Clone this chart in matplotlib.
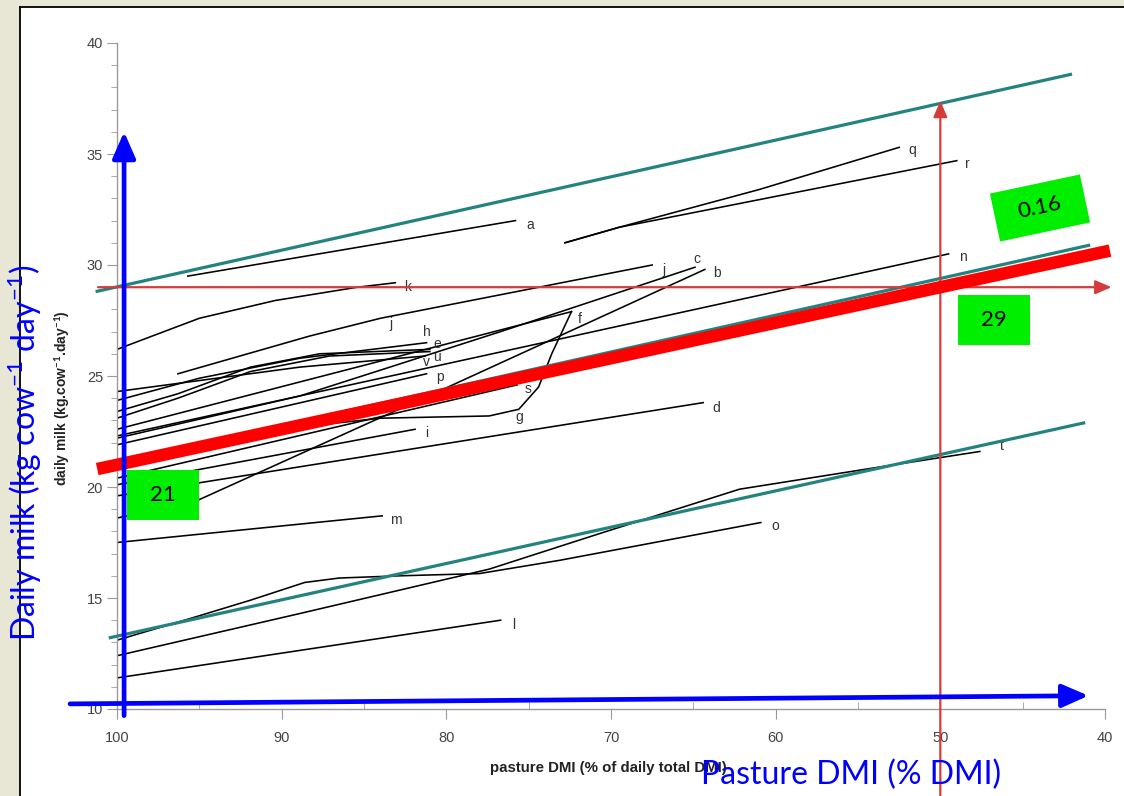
import matplotlib
matplotlib.use('Agg')
import matplotlib.pyplot as plt
import matplotlib.transforms as mtransforms
from matplotlib.patches import Rectangle
from matplotlib.lines import Line2D
from matplotlib.ticker import MultipleLocator

plt.rcParams['mathtext.fontset'] = 'custom'
plt.rcParams['mathtext.rm'] = 'Lato'
plt.rcParams['mathtext.it'] = 'Lato:italic'
plt.rcParams['mathtext.bf'] = 'Lato:bold'

# pasture DMI (% of total DMI) vs daily milk (kg/cow/day), one curve per study
pdmi_a = [95.7, 75.8]
milk_a = [29.5, 32.0]
pdmi_q = [72.8, 69.5, 61.0, 52.5]
milk_q = [31.0, 31.7, 33.4, 35.3]
pdmi_r = [72.8, 69.5, 49.0]
milk_r = [31.0, 31.7, 34.7]
pdmi_k = [100, 95.0, 90.4, 85.4, 83.1]
milk_k = [26.2, 27.6, 28.4, 29.0, 29.2]
pdmi_j = [96.3, 88.3, 84.0, 67.5]
milk_j = [25.1, 26.8, 27.6, 30.0]
pdmi_c = [100, 88.9, 76.7, 64.9]
milk_c = [22.2, 24.1, 27.0, 29.9]
pdmi_b = [100, 95.1, 80.2, 64.3]
milk_b = [18.6, 19.4, 24.4, 29.8]
pdmi_n = [100, 49.5]
milk_n = [22.3, 30.5]
pdmi_f = [100, 72.4]
milk_f = [22.6, 27.9]
pdmi_g = [100, 95.0, 88.9, 84.0, 77.4, 75.6, 74.4, 73.6, 72.4]
milk_g = [20.8, 21.7, 22.7, 23.1, 23.2, 23.5, 24.5, 26.0, 27.9]
pdmi_s = [100, 75.7]
milk_s = [20.4, 24.6]
pdmi_i = [100, 81.9]
milk_i = [20.1, 22.6]
pdmi_d = [100, 64.4]
milk_d = [19.6, 23.8]
pdmi_p = [100, 81.2]
milk_p = [21.9, 25.1]
pdmi_h = [100, 95.0, 88.9, 81.2]
milk_h = [23.9, 24.9, 25.8, 26.5]
pdmi_e = [100, 96.3, 91.9, 87.7, 81.0]
milk_e = [23.4, 24.2, 25.4, 26.0, 26.2]
pdmi_u = [100, 96.3, 91.9, 87.1, 81.0]
milk_u = [23.1, 24.0, 25.2, 25.9, 26.1]
pdmi_v = [100, 88.9, 81.3]
milk_v = [24.3, 25.4, 25.9]
pdmi_m = [100, 83.9]
milk_m = [17.5, 18.7]
pdmi_o = [100, 95.0, 91.9, 88.6, 86.5, 82.8, 78.0, 73.1, 60.9]
milk_o = [13.1, 14.2, 14.9, 15.7, 15.9, 16.0, 16.1, 16.7, 18.4]
pdmi_t = [100, 88.9, 77.4, 70.7, 62.2, 53.7, 47.6]
milk_t = [12.4, 14.3, 16.3, 17.9, 19.9, 20.9, 21.6]
pdmi_l = [100, 76.7]
milk_l = [11.4, 14.0]

studies = ['a', 'q', 'r', 'k', 'j', 'c', 'b', 'n', 'f', 'g', 's', 'i', 'd',
           'p', 'h', 'e', 'u', 'v', 'm', 'o', 't', 'l']

# envelope lines
upper_x = [101.3, 42.0]
upper_y = [28.8, 38.6]
mid_x = [101.0, 40.9]
mid_y = [20.95, 30.9]
lower_x = [100.5, 41.2]
lower_y = [13.2, 22.9]

# overall response: 21 kg at 100 % pasture, +0.16 kg per % less pasture
fit_milk_100 = 21
fit_slope = 0.16
fit_x = [101.2, 39.7]
milk_at_50 = 29
pdmi_mark = 50

W, H = 1124, 796
fig = plt.figure(figsize=(W / 100, H / 100), dpi=100, facecolor='#e8e6d5')

# white slide panel
fig.add_artist(Rectangle((20 / W, 0), 1 - 20 / W, 1 - 7 / H, transform=fig.transFigure,
                         facecolor='white', edgecolor='none', zorder=-10))
fig.add_artist(Line2D([20 / W, 20 / W], [0, 1 - 7 / H], color='black', lw=1.3,
                      transform=fig.transFigure, zorder=-9))
fig.add_artist(Line2D([20 / W, 1], [1 - 7 / H, 1 - 7 / H], color='black', lw=1.3,
                      transform=fig.transFigure, zorder=-9))

ax = fig.add_axes([117 / W, 1 - 709 / H, (1105 - 117) / W, (709 - 43) / H])
ax.patch.set_alpha(0)
ax.set_xlim(100, 40)
ax.set_ylim(10, 40)
for side in ['top', 'right']:
    ax.spines[side].set_visible(False)
for side in ['left', 'bottom']:
    ax.spines[side].set_color('#9a9a9a')
    ax.spines[side].set_linewidth(1)
ax.xaxis.set_major_locator(MultipleLocator(10))
ax.xaxis.set_minor_locator(MultipleLocator(5))
ax.yaxis.set_major_locator(MultipleLocator(5))
ax.yaxis.set_minor_locator(MultipleLocator(1))
ax.tick_params(axis='x', which='major', direction='out', length=7, color='#9a9a9a',
               pad=9, labelsize=10.5, labelcolor='#444444')
ax.tick_params(axis='x', which='minor', direction='in', length=5, color='#9a9a9a')
ax.tick_params(axis='y', which='major', direction='out', length=7, color='#9a9a9a',
               pad=3, labelsize=10.5, labelcolor='#444444')
ax.tick_params(axis='y', which='minor', direction='out', length=4, color='#9a9a9a')
for lab in ax.get_xticklabels() + ax.get_yticklabels():
    lab.set_family('Liberation Sans')

# label offsets (pixels) from the chosen point of each curve
label_pos = {'a': (-1, 15, -4), 'q': (-1, 13, -3), 'r': (-1, 11, -3), 'k': (-1, 12, -4),
             'j': (-1, 12, -5), 'c': (-1, 2, 8), 'b': (-1, 12, -4), 'n': (-1, 14, -3),
             'f': (-1, 8, -7), 'g': (-4, 0, -8), 's': (-1, 11, -4), 'i': (-1, 12, -4),
             'd': (-1, 13, -5), 'p': (-1, 13, -3), 'h': (-1, 0, 11), 'e': (-1, 7, 5),
             'u': (-1, 7, -5), 'v': (-1, 2, -6), 'm': (-1, 14, -4), 'o': (-1, 14, -3),
             't': (-1, 22, 5), 'l': (-1, 13, -5)}

for name in studies:
    xs = globals()['pdmi_' + name]
    ys = globals()['milk_' + name]
    ax.plot(xs, ys, color='black', lw=1.15, solid_joinstyle='round', zorder=2)
    idx, dx, dy = label_pos[name]
    ax.annotate(name, (xs[idx], ys[idx]), xytext=(dx, dy), textcoords='offset pixels',
                ha='center', va='center', fontsize=10, color='#333333',
                family='Liberation Sans', zorder=2)
# second 'j' tag along the j curve
ax.annotate('j', (pdmi_j[2], milk_j[2]), xytext=(10, -6), textcoords='offset pixels',
            ha='center', va='center', fontsize=10, color='#333333', family='Liberation Sans')

teal = '#23837f'
for xs, ys in [(upper_x, upper_y), (mid_x, mid_y), (lower_x, lower_y)]:
    ax.plot(xs, ys, color=teal, lw=2.3, solid_capstyle='butt', zorder=3, clip_on=False)

# marker arrows at 29 kg and 50 % pasture
red = '#d43c3c'
ax.annotate('', xy=(39.6, milk_at_50), xytext=(101.15, milk_at_50),
            arrowprops=dict(arrowstyle='-|>,head_length=0.7,head_width=0.3', color=red,
                            lw=1.6, mutation_scale=14, shrinkA=0, shrinkB=0),
            annotation_clip=False, zorder=4)
ax.annotate('', xy=(pdmi_mark, 37.4), xytext=(pdmi_mark, 6.0),
            arrowprops=dict(arrowstyle='-|>,head_length=0.7,head_width=0.3', color=red,
                            lw=1.6, mutation_scale=14, shrinkA=0, shrinkB=0),
            annotation_clip=False, zorder=4)

fit_y = [fit_milk_100 + fit_slope * (100 - x) for x in fit_x]
ax.plot(fit_x, fit_y, color='#ff0000', lw=9, solid_capstyle='butt', zorder=5, clip_on=False)

# blue axis arrows
ax.annotate('', xy=(99.57, 36.0), xytext=(99.57, 9.7),
            arrowprops=dict(arrowstyle='-|>,head_length=0.8,head_width=0.35', color='#0000ff',
                            lw=3.4, mutation_scale=20, shrinkA=0, shrinkB=0),
            annotation_clip=False, zorder=6)
ax.annotate('', xy=(41.0, 10.6), xytext=(102.85, 10.23),
            arrowprops=dict(arrowstyle='-|>,head_length=0.8,head_width=0.35', color='#0000ff',
                            lw=3.4, mutation_scale=20, shrinkA=0, shrinkB=0),
            annotation_clip=False, zorder=6)

fig.text(63 / W, 1 - 398 / H, 'daily milk (kg.cow$^{\\mathbf{-1}}$.day$^{\\mathbf{-1}}$)',
         rotation=90, ha='center', va='center', fontsize=10, fontweight='bold',
         family='Liberation Sans', color='#222222')
fig.text(490 / W, 1 - 768 / H, 'pasture DMI (% of daily total DMI)', ha='left',
         va='center', fontsize=10.8, fontweight='bold', family='Liberation Sans',
         color='#222222')

fig.text(25 / W, 1 - 453 / H, 'Daily milk (kg cow$^{-1}$ day$^{-1}$)', rotation=90,
         ha='center', va='center', fontsize=23, color='#0000ff', family='Lato')
fig.text(851 / W, 1 - 775 / H, 'Pasture DMI (% DMI)', ha='center', va='center',
         fontsize=23, color='#0000ff', family='Lato', zorder=8)


def green_box(cx, cy, w, h, angle, txt):
    tr = mtransforms.Affine2D().rotate_deg(angle).translate(cx, H - cy)
    fig.add_artist(Rectangle((-w / 2, -h / 2), w, h, transform=tr,
                             facecolor='#00ee00', edgecolor='none', zorder=9))
    fig.text(cx / W, 1 - cy / H, txt, rotation=angle, rotation_mode='anchor',
             ha='center', va='center', fontsize=16, family='Lato', color='black', zorder=10)


green_box(163, 495, 72, 50, 0, str(fit_milk_100))
green_box(994, 320, 72, 50, 0, str(milk_at_50))
green_box(1040, 208, 92, 49, 12, str(fit_slope))

fig.savefig('out.png', dpi=100, facecolor=fig.get_facecolor())
